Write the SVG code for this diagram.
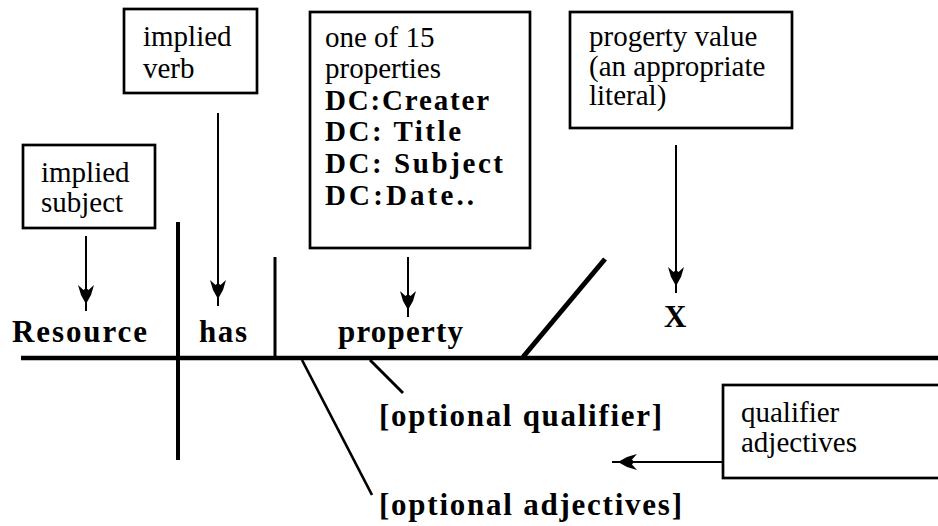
<svg xmlns="http://www.w3.org/2000/svg" xmlns:xlink="http://www.w3.org/1999/xlink" width="938" height="526" viewBox="0 0 938 526">
<style>
.box{fill:#fff;stroke:#000;stroke-width:2.7}
.t{font-family:"Liberation Serif","Times New Roman",serif;font-size:29px;fill:#000}
.b{font-family:"Liberation Serif","Times New Roman",serif;font-size:31px;font-weight:bold;fill:#000}
.bb{font-family:"Liberation Serif","Times New Roman",serif;font-size:29px;font-weight:bold;fill:#000}
.ln{stroke:#000;fill:none;stroke-linecap:butt}
.ar{stroke:#000;stroke-width:2;fill:none}
</style>
<defs>
<path id="ah" d="M0,0 L-5,-9 L-8,-19 L-2.5,-14 L0,-16 L2.5,-14 L8,-19 L5,-9 Z" fill="#000"/>
</defs>
<rect width="938" height="526" fill="#fff"/>

<g id="implied-subject">
<rect class="box" x="23" y="145" width="132" height="83"/>
<text class="t" x="41" y="182">implied</text>
<text class="t" x="41" y="212">subject</text>
</g>
<g id="implied-verb">
<rect class="box" x="124" y="9" width="133" height="84"/>
<text class="t" x="143" y="46">implied</text>
<text class="t" x="143" y="78">verb</text>
</g>
<g id="properties-box">
<rect class="box" x="310" y="12" width="220" height="236"/>
<text class="t" x="325" y="47" font-size="30">one of 15</text>
<text class="t" x="325" y="78" font-size="30">properties</text>
<text class="bb" x="325" y="110" textLength="164">DC:Creater</text>
<text class="bb" x="325" y="141" textLength="136">DC: Title</text>
<text class="bb" x="325" y="173" textLength="178">DC: Subject</text>
<text class="bb" x="325" y="205" textLength="149">DC:Date..</text>
</g>
<g id="property-value-box">
<rect class="box" x="570" y="12" width="222" height="116"/>
<text class="t" x="589" y="46" font-size="30">progerty value</text>
<text class="t" x="589" y="76" font-size="30">(an appropriate</text>
<text class="t" x="589" y="105" font-size="30">literal)</text>
</g>
<g id="qualifier-adjectives-box">
<rect class="box" x="723" y="385" width="240" height="93"/>
<text class="t" x="741" y="422">qualifier</text>
<text class="t" x="741" y="452">adjectives</text>
</g>

<g id="sentence-labels">
<text class="b" x="12" y="342" textLength="135">Resource</text>
<text class="b" x="199" y="342" textLength="48">has</text>
<text class="b" x="338" y="342" textLength="125">property</text>
<text class="b" x="664" y="327">X</text>
<text class="b" x="379" y="426" textLength="283">[optional qualifier]</text>
<text class="b" x="379" y="515" textLength="303">[optional adjectives]</text>
</g>

<g id="connectors">
<line class="ln" x1="21" y1="358" x2="938" y2="358" stroke-width="4.5"/>
<line class="ln" x1="178" y1="222" x2="178" y2="460" stroke-width="4"/>
<line class="ln" x1="275" y1="257" x2="275" y2="358" stroke-width="3"/>
<line class="ln" x1="523" y1="357" x2="605" y2="259" stroke-width="5"/>
<line class="ln" x1="302" y1="360" x2="372" y2="495" stroke-width="2.7"/>
<line class="ln" x1="370" y1="360" x2="403" y2="393" stroke-width="3"/>

<line class="ar" x1="86" y1="236" x2="86" y2="311"/>
<use xlink:href="#ah" transform="translate(86,304)"/>
<line class="ar" x1="218" y1="113" x2="218" y2="306"/>
<use xlink:href="#ah" transform="translate(218,299)"/>
<line class="ar" x1="408" y1="257" x2="408" y2="317"/>
<use xlink:href="#ah" transform="translate(408,310)"/>
<line class="ar" x1="676" y1="145" x2="676" y2="293"/>
<use xlink:href="#ah" transform="translate(676,286)"/>
<line class="ar" x1="723" y1="462" x2="612" y2="462"/>
<use xlink:href="#ah" transform="translate(618,462) rotate(90)"/>
</g>
</svg>
